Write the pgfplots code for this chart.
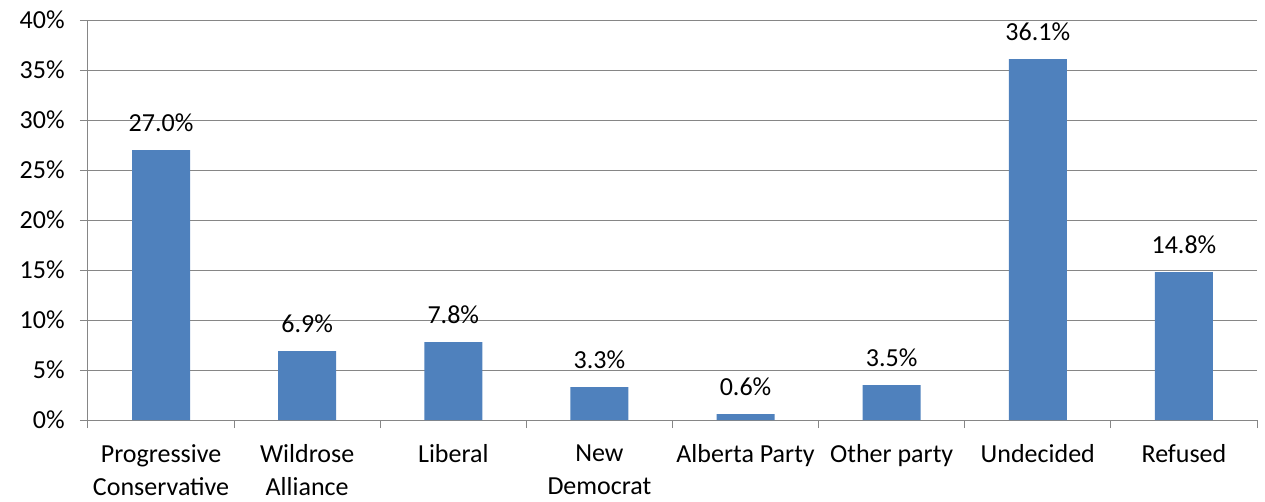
\documentclass[border=0pt]{standalone}
\usepackage{pgfplots}
\pgfplotsset{compat=1.18}
\usepackage{fontspec}
\setmainfont{Carlito}
\definecolor{barblue}{HTML}{4F81BD}
\definecolor{gridgray}{HTML}{868686}
\begin{document}
\begin{tikzpicture}[x=1pt,y=1pt]
\useasboundingbox (-66pt,-60.75pt) rectangle (882.75pt,315pt);
\begin{axis}[
  at={(0pt,0pt)}, anchor=south west,
  scale only axis,
  width=876.75pt, height=300pt,
  xmin=-0.5, xmax=7.5,
  ymin=0, ymax=40,
  axis x line*=bottom, axis y line*=left,
  axis line style={gridgray, line width=0.75pt, -},
  xtick align=outside, ytick align=outside,
  ytick={0,5,...,40},
  yticklabel={\pgfmathprintnumber{\tick}\%},
  ymajorgrids,
  major grid style={gridgray, line width=0.75pt},
  major tick length=6pt,
  tick style={gridgray, line width=0.75pt},
  xtick={-0.5,0.5,...,7.5},
  xticklabels={},
  extra x ticks={0,...,7},
  extra x tick labels={Progressive\\Conservative, Wildrose\\Alliance, Liberal, New\\Democrat, Alberta Party, Other party, Undecided, Refused},
  extra x tick style={major tick length=0pt, xticklabel style={align=center, anchor=north, yshift=-15pt, font=\fontsize{19.5}{24.5}\selectfont}},
  yticklabel style={font=\fontsize{19.5}{23}\selectfont, xshift=-8pt},
  /pgf/number format/assume math mode=true,
  ybar, bar width=43.5pt,
  nodes near coords={\pgfmathprintnumber[fixed,fixed zerofill,precision=1]{\pgfplotspointmeta}\%},
  nodes near coords style={font=\fontsize{19.5}{23}\selectfont, black, yshift=10pt},
  clip=false,
]
\addplot[fill=barblue, draw=none] coordinates {(0,27.0) (1,6.9) (2,7.8) (3,3.3) (4,0.6) (5,3.5) (6,36.1) (7,14.8)};
\end{axis}
\end{tikzpicture}
\end{document}
